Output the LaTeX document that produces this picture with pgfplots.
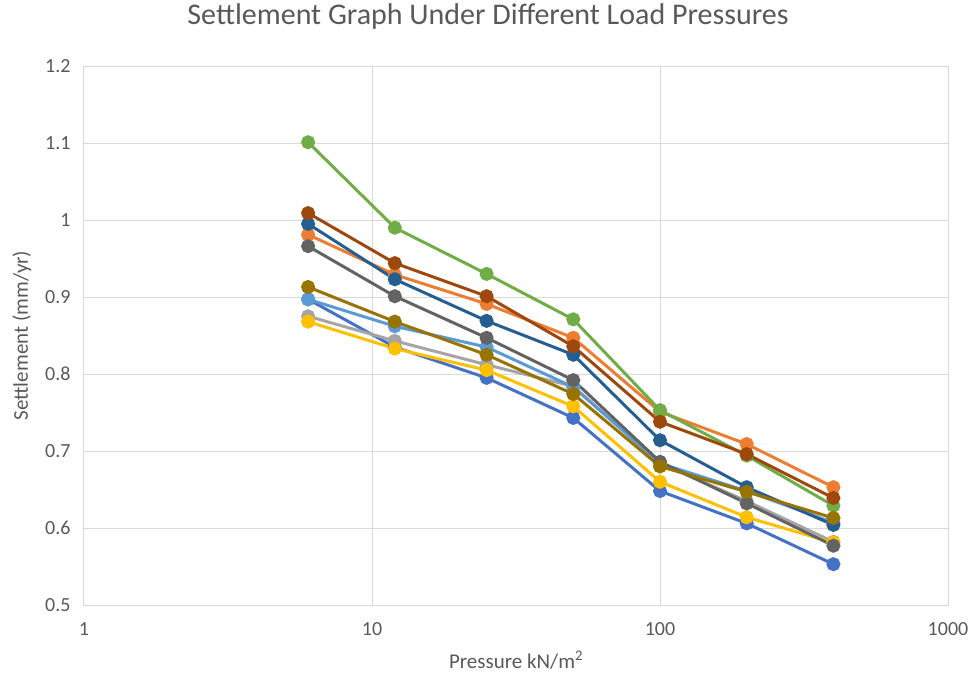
\documentclass[border=0pt]{standalone}
\usepackage{fontspec}
\setmainfont{Carlito}
\usepackage{pgfplots}
\pgfplotsset{compat=1.18}
\definecolor{s1}{HTML}{4472C4}
\definecolor{s2}{HTML}{ED7D31}
\definecolor{s3}{HTML}{A5A5A5}
\definecolor{s4}{HTML}{FFC000}
\definecolor{s5}{HTML}{5B9BD5}
\definecolor{s6}{HTML}{70AD47}
\definecolor{s7}{HTML}{255E91}
\definecolor{s8}{HTML}{9E480E}
\definecolor{s9}{HTML}{636363}
\definecolor{s10}{HTML}{997300}
\definecolor{txt}{HTML}{595959}
\definecolor{grd}{HTML}{D9D9D9}
\begin{document}
\begin{tikzpicture}
\begin{axis}[
  scale only axis,
  width=864pt, height=539pt,
  at={(84pt,68pt)}, anchor=south west,
  xmode=log, xmin=1, xmax=1000,
  ymin=0.5, ymax=1.2,
  xtick={1,10,100,1000}, xticklabels={1,10,100,1000},
  ytick={0.5,0.6,0.7,0.8,0.9,1,1.1,1.2},
  yticklabels={0.5,0.6,0.7,0.8,0.9,1,1.1,1.2},
  minor xtick={},
  major tick length=0pt,
  minor tick length=0pt,
  grid=major,
  major grid style={grd, line width=1pt},
  axis line style={grd, line width=1pt},
  tick label style={font=\fontsize{20}{22}\selectfont, text=txt},
  xticklabel style={yshift=-14pt},
  yticklabel style={xshift=-10pt},
  xlabel={Pressure kN/m\textsuperscript{2}},
  ylabel={Settlement (mm/yr)},
  label style={font=\fontsize{21}{23}\selectfont, text=txt},
  xlabel style={at={(axis description cs:0.5,0)}, anchor=center, yshift=-55pt},
  ylabel style={at={(axis description cs:-0.0718,0.5)}, anchor=center},
  title={Settlement Graph Under Different Load Pressures},
  title style={at={(axis description cs:0.4676,1.0816)}, anchor=center, font=\fontsize{30}{33}\selectfont, text=txt},
  every axis plot/.append style={line width=3pt, mark=*, mark size=5.5pt, mark options={solid}},
]
\addplot[s1, mark options={fill=s1, draw=s1}] coordinates {(6,0.897) (12,0.835) (25,0.795) (50,0.743) (100,0.648) (200,0.606) (400,0.553)};
\addplot[s2, mark options={fill=s2, draw=s2}] coordinates {(6,0.981) (12,0.929) (25,0.891) (50,0.847) (100,0.751) (200,0.709) (400,0.653)};
\addplot[s3, mark options={fill=s3, draw=s3}] coordinates {(6,0.875) (12,0.843) (25,0.812) (50,0.784) (100,0.684) (200,0.635) (400,0.582)};
\addplot[s4, mark options={fill=s4, draw=s4}] coordinates {(6,0.868) (12,0.833) (25,0.805) (50,0.758) (100,0.660) (200,0.614) (400,0.581)};
\addplot[s5, mark options={fill=s5, draw=s5}] coordinates {(6,0.897) (12,0.862) (25,0.835) (50,0.783) (100,0.684) (200,0.648) (400,0.607)};
\addplot[s6, mark options={fill=s6, draw=s6}] coordinates {(6,1.101) (12,0.990) (25,0.930) (50,0.871) (100,0.753) (200,0.694) (400,0.629)};
\addplot[s7, mark options={fill=s7, draw=s7}] coordinates {(6,0.995) (12,0.923) (25,0.869) (50,0.825) (100,0.714) (200,0.653) (400,0.604)};
\addplot[s8, mark options={fill=s8, draw=s8}] coordinates {(6,1.009) (12,0.944) (25,0.901) (50,0.836) (100,0.738) (200,0.696) (400,0.639)};
\addplot[s9, mark options={fill=s9, draw=s9}] coordinates {(6,0.966) (12,0.901) (25,0.847) (50,0.792) (100,0.686) (200,0.632) (400,0.577)};
\addplot[s10, mark options={fill=s10, draw=s10}] coordinates {(6,0.913) (12,0.868) (25,0.825) (50,0.774) (100,0.680) (200,0.647) (400,0.613)};
\end{axis}
\pgfresetboundingbox
\path[use as bounding box] (0,0) rectangle (977pt,673pt);
\end{tikzpicture}
\end{document}
